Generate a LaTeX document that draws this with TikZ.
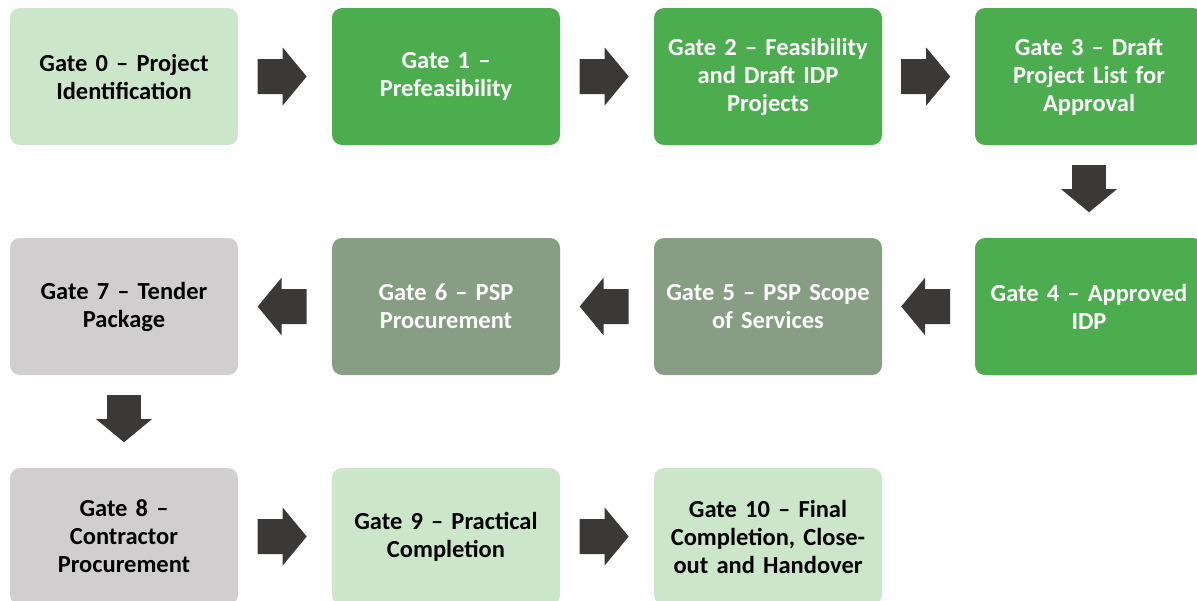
\documentclass[tikz,border=0pt]{standalone}
\usepackage{fontspec}
\setmainfont{Carlito}
\usepackage{tikz}
\usetikzlibrary{calc}
\definecolor{lgreen}{HTML}{CBE6C8}
\definecolor{mgreen}{HTML}{4CAD4E}
\definecolor{ggreen}{HTML}{879D84}
\definecolor{lgrey}{HTML}{D0CECE}
\definecolor{darrow}{HTML}{3B3838}
\tikzset{gate/.style = {rounded corners=10pt, minimum width=228pt, minimum height=137pt,
                        align=center, text width=220pt, inner sep=0pt,
                        font=\fontsize{24.5}{28}\selectfont\bfseries},
         gatelight/.style = {gate, fill=lgreen, text=black},
         gatedark/.style = {gate, fill=mgreen, text=white},
         gatemid/.style = {gate, fill=ggreen, text=white},
         gategrey/.style = {gate, fill=lgrey, text=black},
         blockarr/.pic = {\fill [darrow] (-24.5, -17.5) -- (0.5, -17.5) -- (0.5, -29) -- (24.5, 0)
                                -- (0.5, 29) -- (0.5, 17.5) -- (-24.5, 17.5) -- cycle;}}

\begin{document}
\begin{tikzpicture}[x=1pt, y=-1pt]
    \useasboundingbox (0, 0) rectangle (1197, 600);
    \clip (0, 0) rectangle (1197, 600);

    \node [gatelight] (g0) at (124, 76.5) {Gate 0 -- Project\\Identification};
    \node [gatedark] (g1) at (446, 76.5) {Gate 1 --\\Prefeasibility};
    \node [gatedark] (g2) at (768, 76.5) {Gate 2 -- Feasibility\\and Draft IDP\\Projects};
    \node [gatedark] (g3) at (1089, 76.5) {Gate 3 -- Draft\\Project List for\\Approval};

    \node [gatedark] (g4) at (1089, 306.5) {Gate 4 -- Approved\\IDP};
    \node [gatemid] (g5) at (768, 306.5) {Gate 5 -- PSP Scope\\of Services};
    \node [gatemid] (g6) at (446, 306.5) {Gate 6 -- PSP\\Procurement};
    \node [gategrey] (g7) at (124, 306.5) {Gate 7 -- Tender\\Package};

    \node [gategrey] (g8) at (124, 536.5) {Gate 8 --\\Contractor\\Procurement};
    \node [gatelight] (g9) at (446, 536.5) {Gate 9 -- Practical\\Completion};
    \node [gatelight] (g10) at (768, 536.5) {Gate 10 -- Final\\Completion, Close-\\out and Handover};

    % arrows between the gates
    \foreach \a/\b in {g0/g1, g1/g2, g2/g3, g8/g9, g9/g10} {
      \pic at ($(\a.east)!0.47!(\b.west)$) {blockarr};
    }
    \foreach \a/\b in {g4/g5, g5/g6, g6/g7} {
      \pic [rotate=180] at ($(\b.east)!0.47!(\a.west)$) {blockarr};
    }
    \foreach \a/\b in {g3/g4, g7/g8} {
      \pic [rotate=-90, scale=0.96] at ($(\a.south)!0.47!(\b.north)$) {blockarr};
    }
  \end{tikzpicture}
\end{document}
